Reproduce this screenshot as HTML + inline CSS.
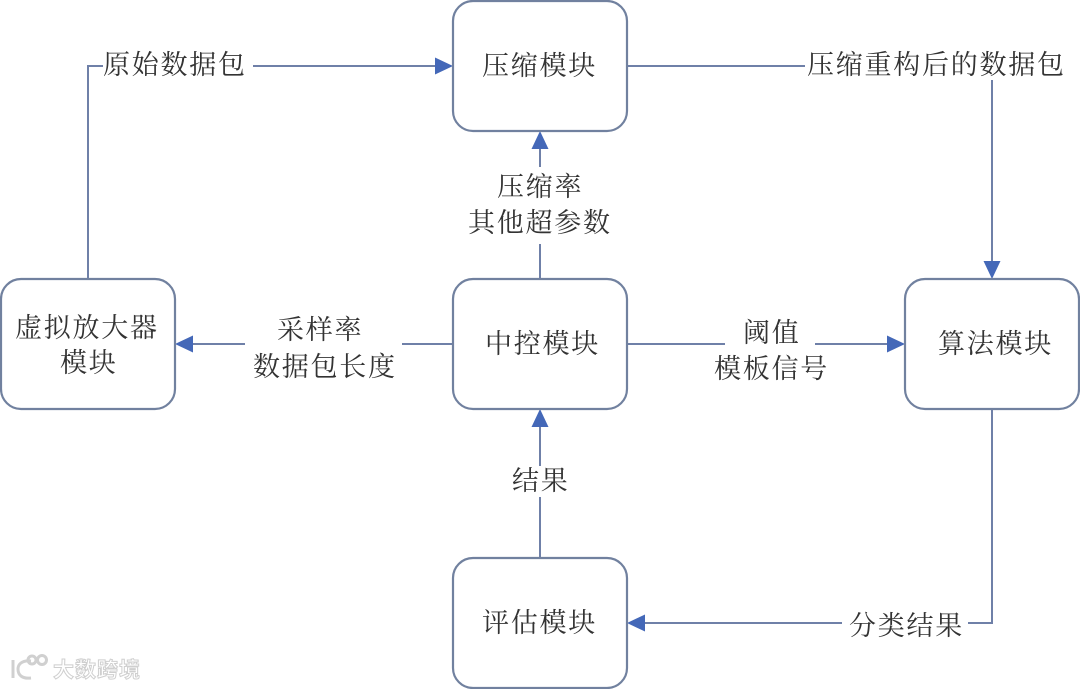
<!DOCTYPE html>
<html lang="zh">
<head>
<meta charset="utf-8">
<style>
html,body{margin:0;padding:0;background:#fff;width:1080px;height:689px;overflow:hidden}
svg{display:block;filter:blur(.35px)}
text{font-family:"Liberation Serif","Noto Serif CJK SC",serif;font-size:27px;fill:#333;letter-spacing:1.75px}
.b{fill:#fff;stroke:#71819f;stroke-width:2.2}
.l{fill:none;stroke:#6f80a8;stroke-width:2}
.a{fill:#4468b8}
.wm{font-family:"Liberation Sans","Noto Sans CJK SC",sans-serif;font-size:21px;font-weight:700;fill:#fff;stroke:#cfcfcf;stroke-width:1;letter-spacing:1px}
</style>
</head>
<body>
<svg width="1080" height="689" viewBox="0 0 1080 689" xmlns="http://www.w3.org/2000/svg">
<!-- connectors -->
<path class="l" d="M88 279V66H103"/>
<path class="l" d="M253 66H436"/>
<path class="l" d="M627 66H805"/>
<path class="l" d="M992 80V264"/>
<path class="l" d="M540 279V244"/>
<path class="l" d="M540 167V148"/>
<path class="l" d="M453 344H402"/>
<path class="l" d="M245 344H190"/>
<path class="l" d="M627 344H725"/>
<path class="l" d="M815 344H890"/>
<path class="l" d="M540 558V497"/>
<path class="l" d="M540 466V425"/>
<path class="l" d="M992 409V623H968"/>
<path class="l" d="M842 623H642"/>
<!-- arrowheads -->
<polygon class="a" points="435,57.500 453,66 435,74.500"/>
<polygon class="a" points="983.500,261 1000.500,261 992,279"/>
<polygon class="a" points="531.500,149 548.500,149 540,131"/>
<polygon class="a" points="193,335.500 193,352.500 175,344"/>
<polygon class="a" points="887,335.500 905,344 887,352.500"/>
<polygon class="a" points="531.500,427 548.500,427 540,409"/>
<polygon class="a" points="645,614.500 645,631.500 627,623"/>
<!-- nodes -->
<rect class="b" x="453" y="1" width="174" height="130" rx="20"/>
<rect class="b" x="1" y="279" width="174" height="130" rx="20"/>
<rect class="b" x="453" y="279" width="174" height="130" rx="20"/>
<rect class="b" x="905" y="279" width="174" height="130" rx="20"/>
<rect class="b" x="453" y="558" width="174" height="130" rx="20"/>
<!-- node labels -->
<text x="482" y="75">压缩模块</text>
<text x="15" y="337">虚拟放大器</text>
<text x="60" y="372">模块</text>
<text x="485" y="353">中控模块</text>
<text x="938" y="353">算法模块</text>
<text x="482" y="632">评估模块</text>
<!-- edge labels -->
<text x="103" y="74">原始数据包</text>
<text x="807" y="74">压缩重构后的数据包</text>
<text x="497" y="196">压缩率</text>
<text x="468" y="232">其他超参数</text>
<text x="277" y="339">采样率</text>
<text x="253" y="376">数据包长度</text>
<text x="743" y="342">阈值</text>
<text x="714" y="378">模板信号</text>
<text x="512" y="490">结果</text>
<text x="849" y="635">分类结果</text>
<!-- watermark -->
<g fill="none" stroke="#d0d0d0" stroke-width="3">
<path d="M13 660V678"/>
<path d="M31 661C21 660 18 665 18 669C18 675 22 679 31 678"/>
<circle cx="32" cy="660" r="4"/>
<circle cx="42" cy="660" r="4.500"/>
</g>
<text class="wm" x="53" y="677">大数跨境</text>
</svg>
</body>
</html>
